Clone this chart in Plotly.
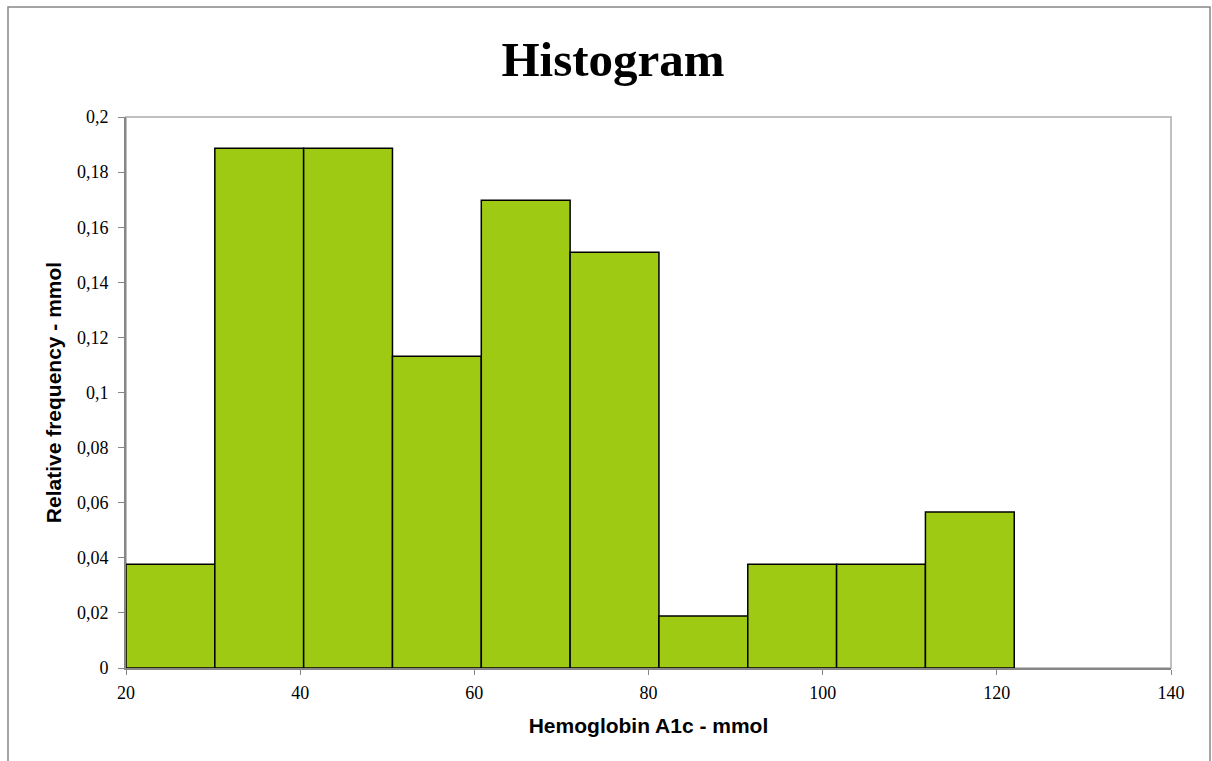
import plotly.graph_objects as go

bin_left = [20.0, 30.2, 40.4, 50.6, 60.8, 71.0, 81.2, 91.4, 101.6, 111.8]
bin_width = 10.2
rel_freq = [0.0377, 0.1887, 0.1887, 0.1132, 0.1698, 0.1509, 0.0189, 0.0377, 0.0377, 0.0566]
x_ticks = [20, 40, 60, 80, 100, 120, 140]
y_ticks = [0, 0.02, 0.04, 0.06, 0.08, 0.1, 0.12, 0.14, 0.16, 0.18, 0.2]

centers = [b + bin_width / 2 for b in bin_left]

fig = go.Figure(go.Bar(
    x=centers, y=rel_freq, width=[bin_width] * len(centers),
    marker=dict(color="#9FCA14", line=dict(color="#000000", width=1.5)),
    hoverinfo="x+y",
))

W, H = 1212, 761
L, R, T, B = 126, 1171, 117, 668
pw, ph = R - L, B - T
def px(x): return (x - L) / pw
def py(y): return (B - y) / ph

fig.update_layout(
    width=W, height=H,
    margin=dict(l=L, r=W - R, t=T, b=H - B, pad=0),
    paper_bgcolor="white", plot_bgcolor="white",
    separators=", ",
    showlegend=False,
    title=dict(text="<b>Histogram</b>", x=px(613), xref="paper", xanchor="center",
               y=1 - 59 / H, yanchor="middle",
               font=dict(family="Liberation Serif", size=49, color="black")),
    xaxis=dict(range=[20, 140], tickvals=x_ticks, ticks="outside", ticklen=5,
               tickcolor="#868686", showline=True, linecolor="#868686", linewidth=2,
               showgrid=False, zeroline=False, ticklabelstandoff=2,
               tickfont=dict(family="Liberation Serif", size=18, color="black"),
               title=dict(text="<b>Hemoglobin A1c - mmol</b>", standoff=17,
                          font=dict(family="Liberation Sans", size=21, color="black"))),
    yaxis=dict(range=[0, 0.2], tickvals=y_ticks, ticks="outside", ticklen=6,
               tickcolor="#868686", showline=True, linecolor="#868686", linewidth=2,
               showgrid=False, zeroline=False, ticklabelstandoff=6,
               tickfont=dict(family="Liberation Serif", size=18, color="black"),
               title=dict(text="<b>Relative frequency - mmol</b>", standoff=10,
                          font=dict(family="Liberation Sans", size=21, color="black"))),
    shapes=[
        dict(type="rect", xref="paper", yref="paper", x0=0, x1=1, y0=0, y1=1,
             line=dict(color="#C0C0C0", width=2), layer="below"),
        dict(type="rect", xref="paper", yref="paper",
             x0=px(8), x1=px(1210), y0=py(7), y1=py(800),
             line=dict(color="#868686", width=1.5), layer="below"),
    ],
)

fig.write_html("out.html", config={"displayModeBar": False},
               post_script="document.body.style.margin='0';document.body.style.overflow='hidden';")
